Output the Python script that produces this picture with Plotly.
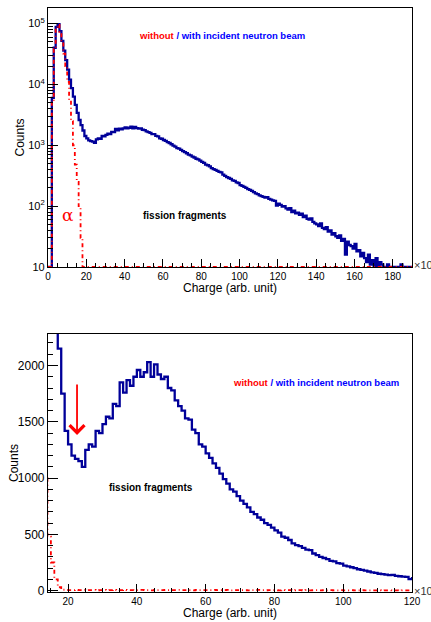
import numpy as np
import plotly.graph_objects as go

# ---------------- data (1-unit bins of charge, x10^3) ----------------
bin_left_edges = list(range(0, 190))

with_beam = [
    0, 0, 6000, 40000, 88000, 98000, 75000, 52000, 36000, 25000,
    17500, 12000, 8700, 6300, 4600, 3400, 2600, 2150, 1750, 1420,
    1300, 1200, 1170, 1150, 1100, 1250, 1300, 1280, 1420, 1400,
    1480, 1545, 1530, 1660, 1640, 1850, 1760, 1870, 1820, 1900,
    1960, 1900, 1940, 2030, 1900, 2010, 1920, 1880, 1900, 1800,
    1780, 1690, 1640, 1600, 1530, 1520, 1430, 1400, 1300, 1280,
    1220, 1180, 1130, 1090, 1040, 990, 950, 900, 880, 840,
    800, 770, 740, 700, 680, 650, 630, 600, 585, 560,
    535, 515, 480, 470, 450, 420, 405, 395, 380, 365,
    360, 330, 315, 300, 290, 280, 265, 260, 245, 240,
    222, 215, 208, 200, 190, 185, 178, 170, 162, 158,
    150, 146, 142, 138, 140, 132, 128, 124, 122, 102,
    110, 105, 98, 100, 92, 88, 93, 80, 84, 76,
    78, 72, 75, 66, 70, 62, 60, 63, 55, 52,
    50, 47, 52, 44, 42, 45, 38, 40, 34, 36,
    32, 30, 33, 27, 29, 16, 26, 23, 22, 20,
    24, 18, 19, 15, 17, 14, 12, 16, 11, 13,
    10, 14, 9, 12, 11, 8, 10, 11, 9, 10,
    7, 9, 10, 8, 11, 9, 8, 10, 9, 8,
]

without_beam = [
    0, 0, 5000, 38000, 85000, 95000, 72000, 50000, 32000, 20000,
    11000, 5500, 2500, 1000, 480, 250, 100, 30, 8, 6,
    5, 4, 6, 5, 7, 4, 5, 6, 3, 5,
    6, 4, 5, 7, 5, 4, 6, 5, 5, 4,
    5, 6, 4, 5, 3, 6, 5, 4, 6, 5,
    4, 5, 6, 4, 5, 5, 3, 6, 4, 5,
    5, 4, 6, 5, 4, 5, 6, 3, 5, 4,
    4, 5, 3, 5, 4, 6, 4, 3, 5, 4,
    4, 3, 5, 4, 4, 3, 5, 4, 3, 4,
    3, 4, 4, 3, 5, 3, 4, 3, 3, 4,
    3, 3, 4, 2, 3, 4, 3, 3, 2, 3,
    3, 2, 3, 3, 2, 3, 2, 3, 2, 2,
    2, 1, 2, 2, 1, 2, 2, 1, 2, 1,
    2, 2, 1, 2, 1, 2, 1, 2, 2, 1,
    1, 2, 1, 1, 2, 1, 2, 1, 1, 2,
    1, 1, 2, 1, 1, 1, 2, 1, 1, 1,
    1, 2, 1, 1, 1, 1, 1, 2, 1, 1,
    1, 1, 1, 1, 2, 1, 1, 1, 1, 1,
    1, 1, 1, 1, 1, 1, 1, 1, 1, 1,
]

top_x_ticks = [0, 20, 40, 60, 80, 100, 120, 140, 160, 180]
top_y_ticks = [10, 100, 1000, 10000, 100000]
top_y_labels = ["10", "10<sup>2</sup>", "10<sup>3</sup>", "10<sup>4</sup>", "10<sup>5</sup>"]
bottom_x_ticks = [20, 40, 60, 80, 100, 120]
bottom_y_ticks = [0, 500, 1000, 1500, 2000]

# ---------------- figure ----------------
BLUE = "#000099"
RED = "#ff0000"
FONT = "Liberation Sans, Arial, sans-serif"

edges = np.append(np.array(bin_left_edges, float), bin_left_edges[-1] + 1)
wb = np.array(with_beam, float)
wo = np.array(without_beam, float)
wb_steps = np.append(wb, wb[-1])
wo_steps = np.append(wo, wo[-1])

fig = go.Figure()
# top panel (log), values below the axis minimum are drawn at the minimum (like ROOT)
fig.add_trace(go.Scatter(x=edges, y=np.clip(wb_steps, 10, None), mode="lines", line_shape="hv",
                         line=dict(color=BLUE, width=2.3), xaxis="x", yaxis="y", showlegend=False))
fig.add_trace(go.Scatter(x=edges, y=np.clip(wo_steps, 10, None), mode="lines", line_shape="hv",
                         line=dict(color=RED, width=1.8, dash="4px,3px,1px,3px"),
                         xaxis="x", yaxis="y", showlegend=False))
# bottom panel (linear)
fig.add_trace(go.Scatter(x=edges, y=wb_steps, mode="lines", line_shape="hv",
                         line=dict(color=BLUE, width=2.3), xaxis="x2", yaxis="y2", showlegend=False))
fig.add_trace(go.Scatter(x=edges, y=wo_steps, mode="lines", line_shape="hv",
                         line=dict(color=RED, width=1.8, dash="4px,3px,1px,3px"),
                         xaxis="x2", yaxis="y2", showlegend=False))

axis_common = dict(showline=True, linecolor="black", linewidth=1.2, mirror=True,
                   ticks="inside", tickcolor="black", showgrid=False, zeroline=False,
                   automargin=False)

minor_log = []
for d in [10, 100, 1000, 10000, 100000]:
    for m in range(2, 10):
        minor_log.append(d * m)

fig.update_layout(
    width=431, height=622,
    margin=dict(l=48, r=19, t=8, b=30),
    paper_bgcolor="white", plot_bgcolor="white",
    font=dict(family=FONT, color="black"),
    xaxis=dict(axis_common, domain=[0, 1], anchor="y", range=[0, 190],
               tickvals=top_x_ticks, ticklen=8, tickwidth=1,
               minor=dict(dtick=5, tick0=0, ticks="inside", ticklen=4, tickcolor="black"),
               tickfont=dict(size=10)),
    yaxis=dict(axis_common, domain=[0.5565, 1.0], anchor="x", type="log",
               range=[1, np.log10(1.8e5)],
               tickvals=top_y_ticks, ticktext=top_y_labels, ticklen=10, tickwidth=1,
               minor=dict(tickmode="array", tickvals=minor_log, ticks="inside", ticklen=5,
                          tickcolor="black"),
               tickfont=dict(size=11)),
    xaxis2=dict(axis_common, domain=[0, 1], anchor="y2", range=[14.16, 120],
                tickvals=bottom_x_ticks, ticklen=8, tickwidth=1,
                minor=dict(dtick=5, tick0=0, ticks="inside", ticklen=4, tickcolor="black"),
                tickfont=dict(size=10)),
    yaxis2=dict(axis_common, domain=[0, 0.4418], anchor="x2", range=[-12, 2280],
                tickvals=bottom_y_ticks, ticklen=10, tickwidth=1,
                minor=dict(dtick=100, tick0=0, ticks="inside", ticklen=5, tickcolor="black"),
                tickfont=dict(size=12)),
)

legend_text = ("<b><span style='color:#ff0000'>without</span> "
               "<span style='color:#0000ff'>/ with incident neutron beam</span></b>")

annotations = [
    # axis titles
    dict(text="Counts", xref="paper", yref="y domain", x=0, y=0.5, xshift=-28,
         textangle=-90, showarrow=False, font=dict(size=12, family=FONT), xanchor="center"),
    dict(text="Counts", xref="paper", yref="y2 domain", x=0, y=0.5, xshift=-34,
         textangle=-90, showarrow=False, font=dict(size=12, family=FONT), xanchor="center"),
    dict(text="Charge (arb. unit)", xref="x domain", yref="y domain", x=0.5, y=0, yshift=-21,
         showarrow=False, font=dict(size=12, family=FONT), yanchor="middle"),
    dict(text="Charge (arb. unit)", xref="x2 domain", yref="y2 domain", x=0.5, y=0, yshift=-21,
         showarrow=False, font=dict(size=12, family=FONT), yanchor="middle"),
    # x10^3 exponent labels
    dict(text="×10<sup>3</sup>", xref="x domain", yref="y domain", x=1, y=0, xanchor="left",
         yanchor="middle", showarrow=False, font=dict(size=11, family=FONT, color="#333"), yshift=3),
    dict(text="×10<sup>3</sup>", xref="x2 domain", yref="y2 domain", x=1, y=0, xanchor="left",
         yanchor="middle", showarrow=False, font=dict(size=11, family=FONT, color="#333"), yshift=2),
    # top panel texts
    dict(text=legend_text, xref="x", yref="y", x=91, y=4.80, showarrow=False,
         font=dict(size=9.5, family=FONT)),
    dict(text="<b>fission fragments</b>", xref="x", yref="y", x=71.3, y=1.84, showarrow=False,
         font=dict(size=10, family=FONT, color="black")),
    dict(text="α", xref="x", yref="y", x=10.4, y=1.85, showarrow=False,
         font=dict(size=17, family="DejaVu Serif, serif", color=RED)),
    # bottom panel texts
    dict(text=legend_text, xref="x2", yref="y2", x=92.1, y=1853, showarrow=False,
         font=dict(size=9.5, family=FONT)),
    dict(text="<b>fission fragments</b>", xref="x2", yref="y2", x=44.2, y=912, showarrow=False,
         font=dict(size=10, family=FONT, color="black")),
    dict(text="", xref="x2", yref="y2", x=22.6, y=1383, ax=22.6, ay=1845,
         axref="x2", ayref="y2", showarrow=True, arrowhead=4, arrowsize=1.6,
         arrowwidth=1.8, arrowcolor=RED),
]
fig.update_layout(annotations=annotations)

fig.write_html(
    "out.html",
    config={"displayModeBar": False},
    post_script="document.body.style.margin='0';document.body.style.overflow='hidden';",
)
